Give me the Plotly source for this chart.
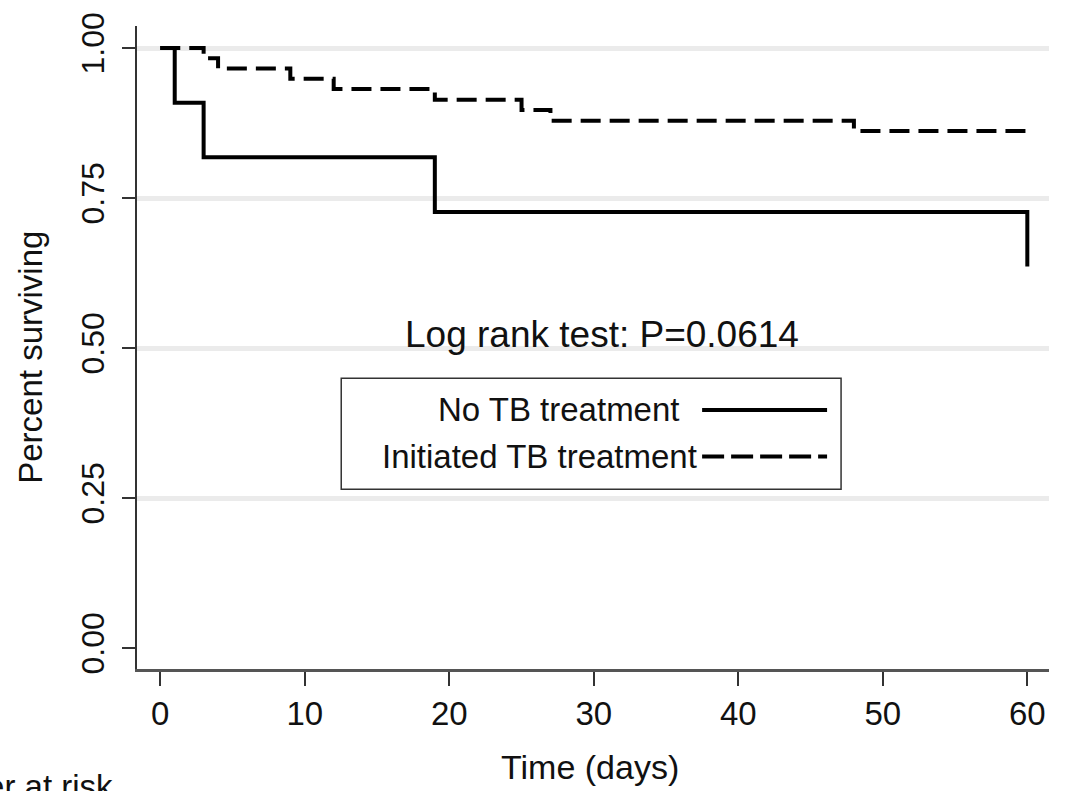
import plotly.graph_objects as go

# Kaplan-Meier step data
no_tb_days = [0, 1, 3, 19, 60]
no_tb_surv = [1.0, 0.909, 0.818, 0.727, 0.636]

tb_days = [0, 3, 4, 9, 12, 19, 25, 27, 48, 60]
tb_surv = [1.0, 0.983, 0.966, 0.949, 0.932, 0.914, 0.897, 0.879, 0.862, 0.862]

x_ticks = [0, 10, 20, 30, 40, 50, 60]
y_ticks = [0.0, 0.25, 0.5, 0.75, 1.0]
y_tick_labels = ["0.00", "0.25", "0.50", "0.75", "1.00"]
grid_vals = [0.25, 0.5, 0.75, 1.0]

series_names = ["No TB treatment", "Initiated TB treatment"]
annotation_text = "Log rank test: P=0.0614"

W, H = 1065, 791
L, R, T, B = 136.7, 1049.0, 20.7, 669.3
PW, PH = R - L, B - T


def px(x):
    return (x - L) / PW


def py(y):
    return (B - y) / PH


FONT = "Liberation Sans, Arial, sans-serif"
INK = "#111111"

fig = go.Figure()

fig.add_trace(go.Scatter(
    x=no_tb_days, y=no_tb_surv, mode="lines", line_shape="hv",
    line=dict(color="black", width=4), name=series_names[0],
    showlegend=False, hoverinfo="skip",
))
fig.add_trace(go.Scatter(
    x=tb_days, y=tb_surv, mode="lines", line_shape="hv",
    line=dict(color="black", width=4, dash="20px,9px"), name=series_names[1],
    showlegend=False, hoverinfo="skip",
))

# invisible trace to activate grid axis
fig.add_trace(go.Scatter(x=[None], y=[None], yaxis="y2", showlegend=False))

fig.update_layout(
    width=W, height=H,
    margin=dict(l=L, r=W - R, t=T, b=H - B, pad=0),
    paper_bgcolor="white", plot_bgcolor="white",
    font=dict(family=FONT, color=INK),
    xaxis=dict(
        range=[-1.61, 61.5], tickvals=x_ticks, ticktext=[str(v) for v in x_ticks],
        showgrid=False, zeroline=False, showline=True, linecolor="#555555", linewidth=2.5,
        ticks="outside", ticklen=14, tickwidth=1.5, tickcolor="#333333",
        tickfont=dict(size=33, family=FONT, color=INK), ticklabelstandoff=0,
        mirror=False,
    ),
    yaxis=dict(
        range=[-0.0347, 1.0368], tickvals=y_ticks, ticktext=y_tick_labels,
        showgrid=False, zeroline=False, showline=True, linecolor="#333333", linewidth=1.5,
        ticks="outside", ticklen=13, tickwidth=1.5, tickcolor="#333333",
        tickfont=dict(size=32, family=FONT, color=INK), tickangle=-90,
        ticklabelstandoff=5, mirror=False,
    ),
    yaxis2=dict(
        range=[-0.0347, 1.0368], overlaying="y", tickvals=grid_vals,
        showgrid=True, gridcolor="#ebebeb", gridwidth=4.5, showticklabels=False,
        ticks="", zeroline=False, showline=False,
    ),
)

shapes = []
# legend box
shapes.append(dict(type="rect", xref="paper", yref="paper",
                   x0=px(341), x1=px(841), y0=py(488), y1=py(376),
                   line=dict(color="#333333", width=1.5), fillcolor="white", layer="above"))
# legend samples
shapes.append(dict(type="line", xref="paper", yref="paper",
                   x0=px(702), x1=px(827), y0=py(408), y1=py(408),
                   line=dict(color="black", width=4)))
shapes.append(dict(type="line", xref="paper", yref="paper",
                   x0=px(702), x1=px(827), y0=py(455), y1=py(455),
                   line=dict(color="black", width=4, dash="22px,7px")))
fig.update_layout(shapes=shapes)

ann = []
ann.append(dict(text=annotation_text, xref="paper", yref="paper",
                x=px(602), y=py(332), xanchor="center", yanchor="middle",
                showarrow=False, font=dict(size=37, family=FONT, color=INK)))
ann.append(dict(text=series_names[0], xref="paper", yref="paper",
                x=px(682), y=py(408), xanchor="right", yanchor="middle",
                showarrow=False, font=dict(size=33, family=FONT, color=INK)))
ann.append(dict(text=series_names[1], xref="paper", yref="paper",
                x=px(699), y=py(455), xanchor="right", yanchor="middle",
                showarrow=False, font=dict(size=33, family=FONT, color=INK)))
ann.append(dict(text="Time (days)", xref="paper", yref="paper",
                x=px(589.5), y=py(768), xanchor="center", yanchor="middle",
                showarrow=False, font=dict(size=34, family=FONT, color=INK)))
ann.append(dict(text="Percent surviving", xref="paper", yref="paper",
                x=px(30), y=py(355), xanchor="center", yanchor="middle", textangle=-90,
                showarrow=False, font=dict(size=33, family=FONT, color=INK)))
ann.append(dict(text="Number at risk", xref="paper", yref="paper",
                x=px(115), y=py(788), xanchor="right", yanchor="middle",
                showarrow=False, font=dict(size=33, family=FONT, color=INK)))
fig.update_layout(annotations=ann)

fig.write_html("out.html", config={"displayModeBar": False},
               post_script="document.body.style.margin='0';document.body.style.overflow='hidden';")
